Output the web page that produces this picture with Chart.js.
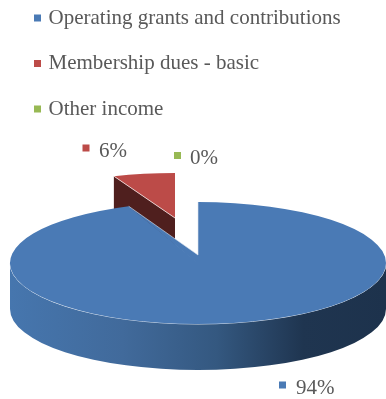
<!DOCTYPE html>
<html>
<head>
<meta charset="utf-8">
<style>
html,body{margin:0;padding:0;background:#fff}
#wrap{width:386px;height:399px}
</style>
<script src="https://cdn.jsdelivr.net/npm/chart.js@4/dist/chart.umd.min.js"></script>
</head>
<body>
<div id="wrap"><canvas id="c" width="386" height="399"></canvas></div>
<script>
const categories = ['Operating grants and contributions', 'Membership dues - basic', 'Other income'];
const shares = [94, 6, 0];
const sliceColors = ['#4A7AB5', '#BC4B48', '#98B954'];

// Projected ellipse of each slice's top face, and its extrusion depth
const faces = [
  {cx: 198, cy: 263, rx: 188, ry: 61, depth: 46, apexLift: 8},
  {cx: 175, cy: 218, rx: 166, ry: 45, depth: 34, apexLift: 0},
  {cx: 175, cy: 218, rx: 166, ry: 45, depth: 34, apexLift: 0}
];
// Value label anchors: marker left edge, text left edge, marker centre line
const labelSpots = [
  {mx: 279, tx: 296, y: 385},
  {mx: 82.5, tx: 99, y: 148},
  {mx: 174, tx: 190, y: 155.5}
];

const FONT = '"Liberation Serif", "Times New Roman", serif';
const TEXT = '#595959';
const LEGEND_TOP = -17;

function edgePoint(f, angle) {
  return {x: f.cx + f.rx * Math.cos(angle), y: f.cy + f.ry * Math.sin(angle)};
}

function drawFrontWall(ctx, f) {
  const grad = ctx.createLinearGradient(f.cx - f.rx, 0, f.cx + f.rx, 0);
  grad.addColorStop(0, '#4676AE');
  grad.addColorStop(0.3, '#416A9B');
  grad.addColorStop(0.55, '#345880');
  grad.addColorStop(0.78, '#1F3550');
  grad.addColorStop(1, '#1D324C');
  ctx.beginPath();
  ctx.ellipse(f.cx, f.cy, f.rx, f.ry, 0, 0, Math.PI);
  ctx.ellipse(f.cx, f.cy + f.depth, f.rx, f.ry, 0, Math.PI, 0, true);
  ctx.closePath();
  ctx.fillStyle = grad;
  ctx.fill();
  ctx.beginPath();
  ctx.ellipse(f.cx, f.cy, f.rx, f.ry, 0, 0, Math.PI);
  ctx.strokeStyle = 'rgba(235,240,246,0.9)';
  ctx.lineWidth = 1;
  ctx.stroke();
}

function drawCutWall(ctx, f, arc) {
  const p = edgePoint(f, arc.startAngle);
  ctx.beginPath();
  ctx.moveTo(f.cx, f.cy);
  ctx.lineTo(p.x, p.y);
  ctx.lineTo(p.x, p.y + f.depth);
  ctx.lineTo(f.cx, f.cy + f.depth);
  ctx.closePath();
  ctx.fillStyle = '#4F1F1E';
  ctx.fill();
}

function drawFace(ctx, f, arc) {
  const R = arc.outerRadius;
  ctx.save();
  ctx.translate(f.cx, f.cy);
  ctx.scale(f.rx / R, f.ry / R);
  ctx.translate(-arc.x, -arc.y);
  arc.draw(ctx);
  ctx.restore();
}

const tiltedPie = {
  id: 'tiltedPie',
  afterLayout(chart) {
    chart.legend.top = LEGEND_TOP;
  },
  beforeDatasetDraw(chart) {
    const ctx = chart.ctx;
    const arcs = chart.getDatasetMeta(0).data;

    // The small slice sits behind the large one, so it is painted first
    drawCutWall(ctx, faces[1], arcs[1]);
    drawFace(ctx, faces[1], arcs[1]);
    ctx.beginPath();
    ctx.moveTo(faces[1].cx, faces[1].cy);
    const q = edgePoint(faces[1], arcs[1].startAngle);
    ctx.lineTo(q.x, q.y);
    ctx.strokeStyle = 'rgba(240,225,225,0.8)';
    ctx.lineWidth = 1;
    ctx.stroke();

    const f = faces[0];
    drawFrontWall(ctx, f);
    drawFace(ctx, f, arcs[0]);

    // Perspective pulls the apex towards the back of the ellipse
    const a = edgePoint(f, arcs[0].endAngle);
    const b = edgePoint(f, arcs[0].startAngle);
    const apex = {x: f.cx, y: f.cy - f.apexLift};
    ctx.beginPath();
    ctx.moveTo(f.cx, f.cy + 1);
    ctx.lineTo(a.x, a.y);
    ctx.lineTo(apex.x, apex.y);
    ctx.closePath();
    ctx.fillStyle = sliceColors[0];
    ctx.fill();
    ctx.beginPath();
    ctx.moveTo(a.x, a.y);
    ctx.lineTo(apex.x, apex.y);
    ctx.lineTo(b.x, b.y);
    ctx.strokeStyle = 'rgba(220,228,238,0.75)';
    ctx.lineWidth = 0.8;
    ctx.stroke();
    return false;
  },
  afterDatasetsDraw(chart) {
    const ctx = chart.ctx;
    ctx.save();
    ctx.font = '21px ' + FONT;
    ctx.textBaseline = 'middle';
    ctx.textAlign = 'left';
    shares.forEach((v, i) => {
      const s = labelSpots[i];
      ctx.fillStyle = sliceColors[i];
      ctx.fillRect(s.mx, s.y - 3.5, 7, 7);
      ctx.fillStyle = TEXT;
      ctx.fillText(v + '%', s.tx, s.y + 3);
    });
    ctx.restore();
  }
};

new Chart(document.getElementById('c'), {
  type: 'pie',
  data: {
    labels: categories,
    datasets: [{
      data: shares,
      backgroundColor: sliceColors,
      borderWidth: 0,
      hoverOffset: 0
    }]
  },
  options: {
    responsive: false,
    animation: false,
    events: [],
    layout: {padding: {left: 12.5, top: 0, right: 0, bottom: 0}},
    plugins: {
      tooltip: {enabled: false},
      legend: {
        position: 'chartArea',
        align: 'start',
        labels: {
          usePointStyle: true,
          pointStyle: 'rect',
          boxWidth: 1,
          boxHeight: 7,
          padding: 24.5,
          color: TEXT,
          font: {family: FONT, size: 21}
        }
      }
    }
  },
  plugins: [tiltedPie]
});
</script>
</body>
</html>
